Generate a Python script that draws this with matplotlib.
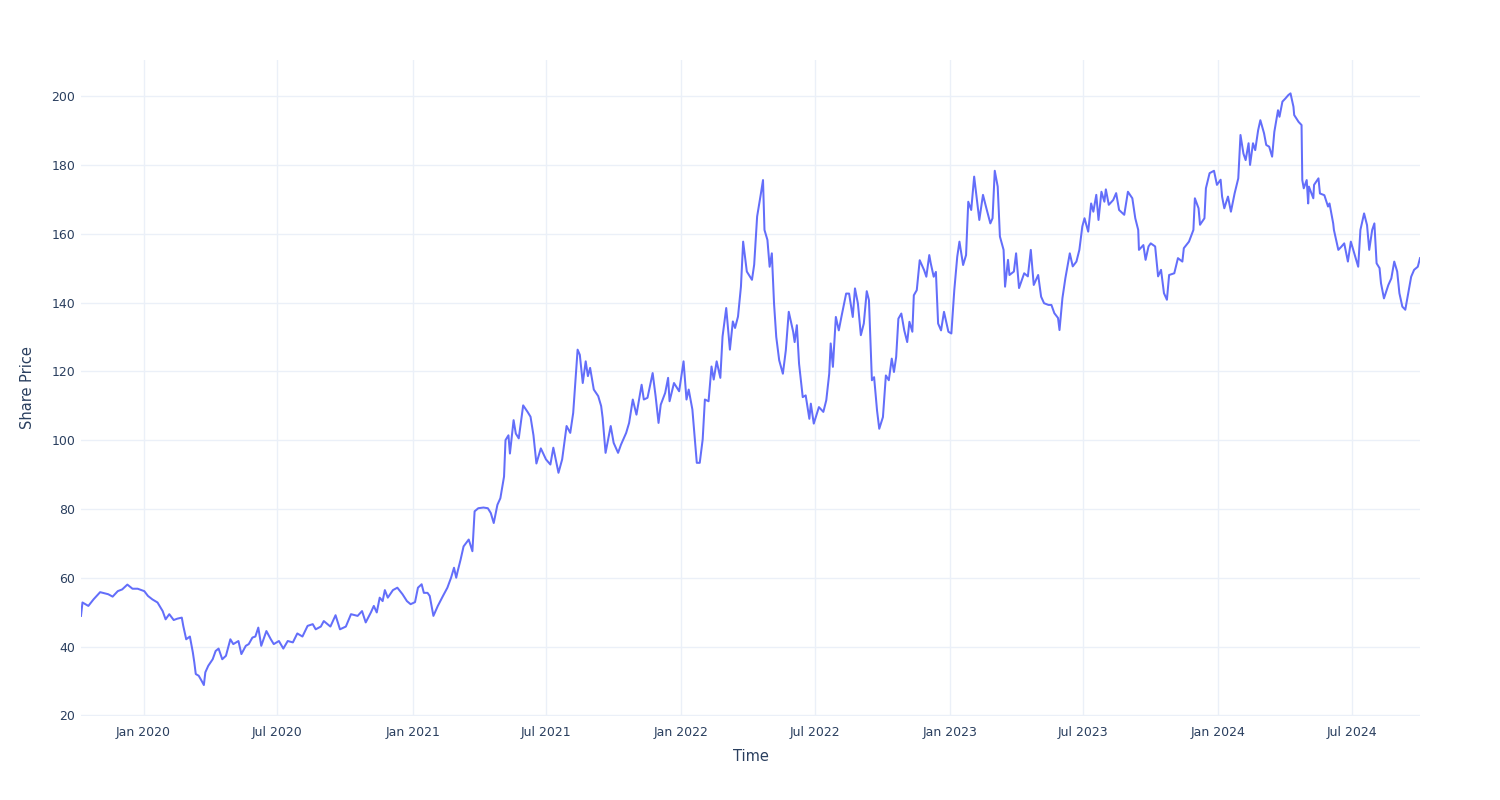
import matplotlib
matplotlib.use("Agg")
import matplotlib.pyplot as plt
import matplotlib.dates as mdates
import pandas as pd

# share price (approx. every few days)
dates = [
    "2019-10-08", "2019-10-10", "2019-10-18", "2019-10-25", "2019-11-03", "2019-11-14", "2019-11-20", "2019-11-27",
    "2019-12-03", "2019-12-10", "2019-12-17", "2019-12-24", "2020-01-02", "2020-01-07", "2020-01-13", "2020-01-20",
    "2020-01-27", "2020-01-31", "2020-02-05", "2020-02-11", "2020-02-16", "2020-02-22", "2020-02-24", "2020-02-28",
    "2020-03-04", "2020-03-08", "2020-03-10", "2020-03-12", "2020-03-16", "2020-03-20", "2020-03-23", "2020-03-25",
    "2020-03-29", "2020-04-04", "2020-04-08", "2020-04-12", "2020-04-17", "2020-04-22", "2020-04-28", "2020-05-02",
    "2020-05-09", "2020-05-13", "2020-05-19", "2020-05-23", "2020-05-28", "2020-06-01", "2020-06-05", "2020-06-09",
    "2020-06-16", "2020-06-22", "2020-06-26", "2020-07-03", "2020-07-09", "2020-07-15", "2020-07-22", "2020-07-28",
    "2020-08-04", "2020-08-11", "2020-08-18", "2020-08-22", "2020-08-29", "2020-09-02", "2020-09-11", "2020-09-18",
    "2020-09-24", "2020-10-02", "2020-10-09", "2020-10-18", "2020-10-24", "2020-10-29", "2020-11-05", "2020-11-09",
    "2020-11-13", "2020-11-17", "2020-11-21", "2020-11-24", "2020-11-28", "2020-12-05", "2020-12-11", "2020-12-18",
    "2020-12-24", "2020-12-29", "2021-01-04", "2021-01-08", "2021-01-13", "2021-01-16", "2021-01-21", "2021-01-24",
    "2021-01-29", "2021-02-04", "2021-02-11", "2021-02-17", "2021-02-22", "2021-02-26", "2021-03-01", "2021-03-03",
    "2021-03-07", "2021-03-11", "2021-03-18", "2021-03-23", "2021-03-26", "2021-03-31", "2021-04-07", "2021-04-13",
    "2021-04-17", "2021-04-21", "2021-04-26", "2021-04-30", "2021-05-05", "2021-05-07", "2021-05-11", "2021-05-13",
    "2021-05-18", "2021-05-21", "2021-05-25", "2021-05-31", "2021-06-06", "2021-06-10", "2021-06-14", "2021-06-18",
    "2021-06-24", "2021-07-01", "2021-07-07", "2021-07-11", "2021-07-18", "2021-07-23", "2021-07-29", "2021-08-03",
    "2021-08-07", "2021-08-13", "2021-08-16", "2021-08-20", "2021-08-24", "2021-08-27", "2021-08-30", "2021-09-04",
    "2021-09-10", "2021-09-14", "2021-09-16", "2021-09-20", "2021-09-27", "2021-10-01", "2021-10-07", "2021-10-11",
    "2021-10-18", "2021-10-22", "2021-10-27", "2021-11-01", "2021-11-08", "2021-11-11", "2021-11-16", "2021-11-23",
    "2021-11-27", "2021-12-01", "2021-12-04", "2021-12-10", "2021-12-14", "2021-12-16", "2021-12-22", "2021-12-29",
    "2022-01-04", "2022-01-08", "2022-01-11", "2022-01-16", "2022-01-19", "2022-01-22", "2022-01-26", "2022-01-30",
    "2022-02-02", "2022-02-07", "2022-02-11", "2022-02-14", "2022-02-18", "2022-02-23", "2022-02-26", "2022-03-03",
    "2022-03-08", "2022-03-12", "2022-03-15", "2022-03-19", "2022-03-23", "2022-03-26", "2022-03-31", "2022-04-07",
    "2022-04-10", "2022-04-14", "2022-04-19", "2022-04-22", "2022-04-24", "2022-04-28", "2022-05-01", "2022-05-04",
    "2022-05-07", "2022-05-10", "2022-05-14", "2022-05-19", "2022-05-23", "2022-05-27", "2022-06-02", "2022-06-04",
    "2022-06-07", "2022-06-10", "2022-06-15", "2022-06-19", "2022-06-24", "2022-06-26", "2022-06-30", "2022-07-07",
    "2022-07-13", "2022-07-17", "2022-07-21", "2022-07-23", "2022-07-26", "2022-07-30", "2022-08-03", "2022-08-07",
    "2022-08-13", "2022-08-17", "2022-08-22", "2022-08-25", "2022-08-29", "2022-09-02", "2022-09-06", "2022-09-10",
    "2022-09-13", "2022-09-17", "2022-09-20", "2022-09-24", "2022-09-27", "2022-10-02", "2022-10-06", "2022-10-10",
    "2022-10-14", "2022-10-17", "2022-10-20", "2022-10-23", "2022-10-27", "2022-10-31", "2022-11-04", "2022-11-07",
    "2022-11-11", "2022-11-13", "2022-11-17", "2022-11-21", "2022-11-27", "2022-11-30", "2022-12-04", "2022-12-06",
    "2022-12-10", "2022-12-13", "2022-12-16", "2022-12-20", "2022-12-24", "2022-12-30", "2023-01-03", "2023-01-07",
    "2023-01-11", "2023-01-14", "2023-01-19", "2023-01-23", "2023-01-26", "2023-01-30", "2023-02-03", "2023-02-10",
    "2023-02-15", "2023-02-19", "2023-02-25", "2023-02-28", "2023-03-03", "2023-03-07", "2023-03-10", "2023-03-15",
    "2023-03-17", "2023-03-21", "2023-03-23", "2023-03-29", "2023-04-01", "2023-04-05", "2023-04-12", "2023-04-17",
    "2023-04-21", "2023-04-25", "2023-05-01", "2023-05-05", "2023-05-09", "2023-05-15", "2023-05-19", "2023-05-23",
    "2023-05-28", "2023-05-30", "2023-06-03", "2023-06-07", "2023-06-13", "2023-06-17", "2023-06-22", "2023-06-26",
    "2023-06-30", "2023-07-03", "2023-07-08", "2023-07-12", "2023-07-15", "2023-07-19", "2023-07-22", "2023-07-26",
    "2023-07-30", "2023-08-01", "2023-08-05", "2023-08-11", "2023-08-15", "2023-08-19", "2023-08-26", "2023-08-31",
    "2023-09-06", "2023-09-10", "2023-09-14", "2023-09-15", "2023-09-21", "2023-09-24", "2023-09-28", "2023-10-01",
    "2023-10-07", "2023-10-11", "2023-10-15", "2023-10-19", "2023-10-23", "2023-10-26", "2023-11-02", "2023-11-07",
    "2023-11-13", "2023-11-15", "2023-11-22", "2023-11-28", "2023-11-30", "2023-12-05", "2023-12-07", "2023-12-13",
    "2023-12-15", "2023-12-20", "2023-12-26", "2023-12-30", "2024-01-04", "2024-01-06", "2024-01-09", "2024-01-14",
    "2024-01-18", "2024-01-23", "2024-01-28", "2024-01-31", "2024-02-04", "2024-02-07", "2024-02-11", "2024-02-13",
    "2024-02-17", "2024-02-20", "2024-02-24", "2024-02-27", "2024-03-03", "2024-03-06", "2024-03-10", "2024-03-14",
    "2024-03-17", "2024-03-22", "2024-03-24", "2024-03-28", "2024-04-01", "2024-04-05", "2024-04-08", "2024-04-12",
    "2024-04-13", "2024-04-19", "2024-04-23", "2024-04-24", "2024-04-26", "2024-04-30", "2024-05-02", "2024-05-03",
    "2024-05-09", "2024-05-10", "2024-05-16", "2024-05-18", "2024-05-24", "2024-05-29", "2024-05-31", "2024-06-05",
    "2024-06-06", "2024-06-12", "2024-06-16", "2024-06-20", "2024-06-25", "2024-06-29", "2024-07-05", "2024-07-09",
    "2024-07-12", "2024-07-17", "2024-07-21", "2024-07-24", "2024-07-28", "2024-07-31", "2024-08-03", "2024-08-07",
    "2024-08-09", "2024-08-13", "2024-08-19", "2024-08-23", "2024-08-27", "2024-08-31", "2024-09-03", "2024-09-07",
    "2024-09-11", "2024-09-15", "2024-09-19", "2024-09-23", "2024-09-28", "2024-10-01",
]
prices = [
    48.9, 52.8, 51.8, 53.7, 55.8, 55.2, 54.5, 56.1,
    56.6, 58.0, 56.8, 56.8, 56.1, 54.7, 53.7, 52.8,
    50.3, 47.9, 49.4, 47.7, 48.1, 48.4, 46.0, 42.1,
    42.9, 38.3, 35.4, 32.0, 31.5, 30.0, 28.8, 32.5,
    34.4, 36.3, 38.7, 39.4, 36.3, 37.3, 42.1, 40.7,
    41.6, 37.8, 40.2, 40.7, 42.6, 42.9, 45.5, 40.2,
    44.5, 42.1, 40.7, 41.6, 39.4, 41.6, 41.2, 43.8,
    42.9, 46.0, 46.5, 45.0, 45.8, 47.4, 45.8, 49.1,
    45.0, 45.8, 49.4, 48.9, 50.3, 47.0, 49.9, 51.8,
    49.9, 54.2, 53.2, 56.4, 54.2, 56.4, 57.1, 55.2,
    53.2, 52.3, 52.9, 57.1, 58.1, 55.6, 55.6, 54.7,
    48.9, 51.8, 54.7, 57.1, 60.0, 62.9, 60.0, 61.9,
    65.3, 69.1, 71.1, 67.7, 79.3, 80.2, 80.4, 80.2,
    78.8, 75.9, 81.2, 83.1, 89.4, 100.0, 101.4, 96.1,
    105.8, 101.9, 100.5, 110.1, 108.2, 106.8, 101.4, 93.2,
    97.6, 94.4, 92.9, 97.8, 90.5, 94.4, 104.1, 102.1,
    107.9, 126.3, 124.8, 116.6, 122.9, 118.6, 121.0, 114.7,
    112.8, 109.9, 106.5, 96.3, 104.1, 99.2, 96.3, 98.7,
    102.1, 105.0, 111.8, 107.4, 116.1, 111.8, 112.3, 119.5,
    112.8, 105.0, 110.3, 113.7, 118.1, 111.3, 116.6, 114.2,
    122.9, 111.8, 114.7, 108.9, 101.2, 93.4, 93.4, 100.2,
    111.8, 111.3, 121.4, 117.6, 122.9, 118.1, 130.1, 138.4,
    126.3, 134.5, 132.6, 135.9, 144.6, 157.7, 149.0, 146.6,
    151.0, 165.0, 171.5, 175.6, 161.1, 158.2, 150.4, 154.3,
    139.7, 130.0, 123.2, 119.3, 126.1, 137.3, 131.5, 128.5,
    133.4, 122.2, 112.5, 113.0, 106.2, 110.6, 104.8, 109.6,
    108.2, 111.6, 119.3, 128.1, 121.3, 135.8, 131.9, 136.3,
    142.6, 142.6, 135.8, 144.1, 139.7, 130.5, 133.9, 143.3,
    140.7, 117.4, 118.3, 108.6, 103.3, 106.7, 118.8, 117.4,
    123.7, 119.8, 124.2, 135.3, 136.8, 131.9, 128.5, 134.4,
    131.5, 142.1, 143.6, 152.3, 149.4, 147.5, 153.8, 151.4,
    147.5, 148.9, 133.9, 131.9, 137.3, 131.5, 131.0, 143.6,
    153.3, 157.7, 150.9, 153.8, 169.3, 166.9, 176.6, 164.0,
    171.3, 167.9, 163.0, 164.5, 178.3, 173.7, 159.2, 155.3,
    144.6, 152.4, 148.0, 149.0, 154.3, 144.2, 148.5, 147.6,
    155.3, 145.1, 148.0, 141.7, 139.8, 139.3, 139.3, 136.9,
    135.5, 132.0, 141.3, 147.1, 154.3, 150.5, 151.9, 155.3,
    162.1, 164.5, 160.6, 168.8, 166.4, 171.3, 164.0, 172.2,
    169.3, 172.9, 168.4, 169.8, 171.8, 166.9, 165.5, 172.2,
    170.3, 164.5, 161.1, 155.3, 156.7, 152.4, 156.3, 157.2,
    156.3, 147.6, 149.5, 142.7, 140.8, 148.0, 148.5, 152.9,
    151.9, 155.8, 157.7, 161.1, 170.3, 167.4, 162.6, 164.5,
    173.2, 177.6, 178.3, 174.2, 175.7, 170.8, 167.4, 170.8,
    166.4, 171.7, 176.1, 188.7, 183.3, 181.4, 186.3, 180.0,
    186.3, 184.3, 190.1, 193.0, 189.2, 185.8, 185.3, 182.4,
    189.6, 195.9, 194.0, 198.4, 199.3, 200.3, 200.8, 196.9,
    194.5, 192.5, 191.6, 175.6, 173.2, 175.6, 168.8, 173.7,
    170.3, 174.2, 176.1, 171.7, 171.2, 167.9, 168.8, 163.0,
    161.1, 155.3, 156.2, 157.2, 151.9, 157.7, 153.3, 150.4,
    161.1, 165.9, 162.5, 155.3, 161.1, 163.0, 151.4, 150.0,
    145.6, 141.2, 145.1, 147.0, 151.9, 149.0, 142.7, 138.8,
    137.9, 142.7, 147.5, 149.5, 150.4, 152.9,
]
y_ticks = [20, 40, 60, 80, 100, 120, 140, 160, 180, 200]

df = pd.DataFrame({"Time": pd.to_datetime(dates), "Share Price": prices})

text_color = "#2a3f5f"
grid_color = "#ebf0f8"

fig = plt.figure(figsize=(15, 8), dpi=100)
ax = fig.add_axes([81 / 1500, 1 - 716 / 800, (1420 - 81) / 1500, (716 - 60) / 800])

ax.plot(df["Time"], df["Share Price"], color="#636efa", lw=1.45)

ax.set_xlim(df["Time"].min(), df["Time"].max())
ax.set_ylim(19.8, 210.5)
ax.set_yticks(y_ticks)
ax.xaxis.set_major_locator(mdates.MonthLocator(bymonth=[1, 7]))
ax.xaxis.set_major_formatter(mdates.DateFormatter("%b %Y"))

for s in ax.spines.values():
    s.set_visible(False)
ax.grid(True, color=grid_color, lw=1)
ax.set_axisbelow(True)
ax.tick_params(axis="both", length=0, labelsize=9, labelcolor=text_color)
ax.tick_params(axis="x", pad=7)
ax.tick_params(axis="y", pad=4)

ax.set_xlabel("Time", fontsize=10.5, color=text_color, labelpad=7.5)
ax.set_ylabel("Share Price", fontsize=10.5, color=text_color, labelpad=12)

fig.savefig("out.png", dpi=100, facecolor="white")
